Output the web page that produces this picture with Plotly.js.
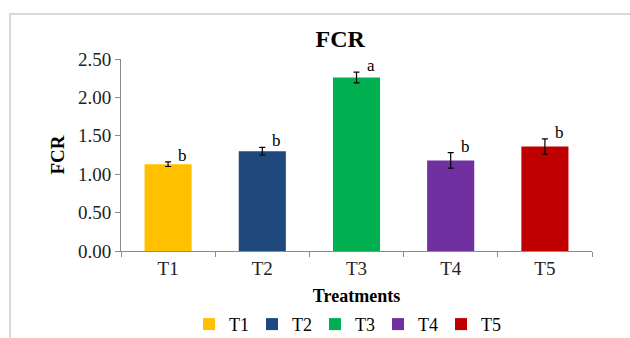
<!DOCTYPE html>
<html>
<head>
<script src="https://cdn.plot.ly/plotly-3.0.1.min.js"></script>
<style>
body{margin:0;padding:0;background:#fff;}
#frame{position:absolute;left:9px;top:13px;width:700px;height:400px;border-left:2px solid #d9d9d9;border-top:2px solid #d9d9d9;}
#chart{position:absolute;left:0;top:0;width:630px;height:338px;}
</style>
</head>
<body>
<div id="frame"></div>
<div id="chart"></div>
<script>
const categories = ['T1','T2','T3','T4','T5'];
const values = [1.13, 1.30, 2.26, 1.18, 1.36];
const errors = [0.03, 0.05, 0.07, 0.10, 0.10];
const letters = ['b','b','a','b','b'];
const colors = ['#FFC000','#1F497D','#00B050','#7030A0','#C00000'];

const serif = 'Liberation Serif, Times New Roman, serif';
const traces = categories.map((c,i)=>({
  type:'bar', name:c, x:[c], y:[values[i]], width:0.5,
  marker:{color:colors[i]},
  error_y:{type:'data', array:[errors[i]], visible:true, color:'#000', thickness:1.2, width:3},
  showlegend:true
}));
const annotations = categories.map((c,i)=>({
  x:c, y:values[i]+errors[i], xref:'x', yref:'y', text:letters[i], showarrow:false,
  xanchor:'left', yanchor:'bottom', xshift:8, yshift:-5,
  font:{family:serif, size:17, color:'#000'}
}));
const layout = {
  width:630, height:338,
  paper_bgcolor:'rgba(0,0,0,0)', plot_bgcolor:'rgba(0,0,0,0)',
  margin:{l:121, r:38, t:59, b:87, autoexpand:false},
  barmode:'overlay',
  title:{text:'<b>FCR</b>', x:0.54, xanchor:'center', y:0.885, yanchor:'middle', font:{family:serif, size:24, color:'#000'}},
  xaxis:{type:'category', showline:true, linecolor:'#8c8c8c', linewidth:1, ticks:'outside', tickson:'boundaries', ticklen:5, tickcolor:'#8c8c8c',
    tickfont:{family:serif, size:19, color:'#222'}, showgrid:false, zeroline:false, automargin:false,
    title:{text:'<b>Treatments</b>', font:{family:serif, size:18, color:'#000'}, standoff:12}},
  yaxis:{range:[0,2.5], dtick:0.5, tickformat:'.2f', showline:true, linecolor:'#8c8c8c', linewidth:1, ticks:'outside', ticklen:5, tickcolor:'#8c8c8c',
    tickfont:{family:serif, size:19, color:'#222'}, showgrid:false, zeroline:false, automargin:false,
    title:{text:'<b>FCR</b>', font:{family:serif, size:19, color:'#000'}, standoff:8}},
  legend:{orientation:'h', x:0.55, xanchor:'center', xref:'container', yref:'container', y:0.095, yanchor:'top',
    font:{family:serif, size:18, color:'#000'}, itemwidth:30, entrywidth:18, entrywidthmode:'pixels', tracegroupgap:0},
  annotations:annotations,
  showlegend:true
};
Plotly.newPlot('chart', traces, layout, {displayModeBar:false, staticPlot:true});
</script>
</body>
</html>
